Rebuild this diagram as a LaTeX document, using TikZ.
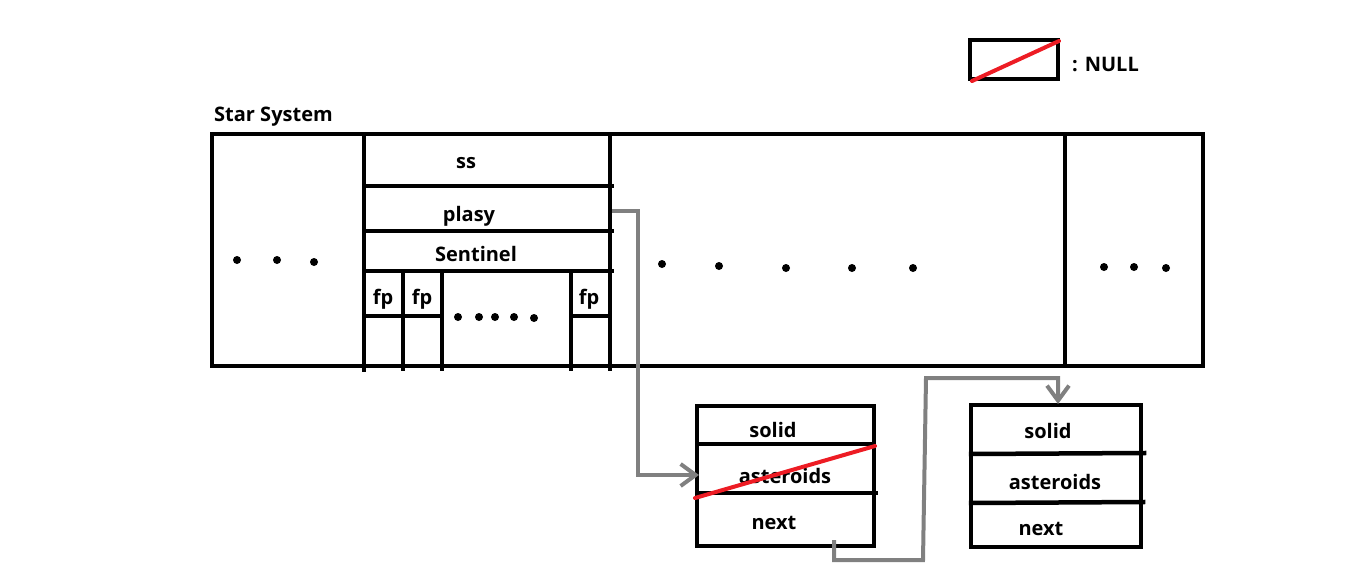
\documentclass[tikz,border=0pt]{standalone}
\usepackage{fontspec}
\setmainfont{Open Sans}
\usetikzlibrary{arrows.meta}
\definecolor{nullred}{RGB}{237,28,36}
\definecolor{linkgray}{RGB}{128,128,128}
\begin{document}
\begin{tikzpicture}[x=1pt,y=-1pt,
  blk/.style={line width=4.5pt,line cap=rect},
  nul/.style={draw=nullred,line width=4pt,line cap=round},
  lbl/.style={font=\fontsize{20}{24}\selectfont\bfseries,inner sep=0pt},
  dot/.style={fill=black,circle,inner sep=0pt,minimum size=8pt},
  link/.style={draw=linkgray,line width=4pt,-{Straight Barb[length=15pt,width=22pt,line width=4pt]}},
  cell/.style={draw,line width=4.5pt,rectangle,inner sep=0pt}]
\useasboundingbox (0,0) rectangle (1360,563);
% legend
\node[cell,minimum width=88pt,minimum height=39pt] (leg) at (1014,59.5) {};
\draw[nul] (972,81) -- (1059,41);
\node[lbl,anchor=west] (nulltxt) at (1072,64) {: NULL};
% title
\node[lbl,anchor=west] (title) at (214,117) {Star System};
% main frame
\draw[blk] (212,134) rectangle (1203,366);
\draw[blk] (364,134) -- (364,370);
\draw[blk] (610,134) -- (610,369);
\draw[blk] (1065,134) -- (1065,366);
\draw[blk] (364,186) -- (612,186);
\draw[blk] (364,231) -- (612,231);
\draw[blk] (364,271) -- (612,271);
\draw[blk] (364,316) -- (442,316);
\draw[blk] (571,316) -- (610,316);
\draw[blk] (403,271) -- (403,369);
\draw[blk] (442,271) -- (442,369);
\draw[blk] (571,271) -- (571,369);
\node[lbl] (ss) at (466,163) {ss};
\node[lbl] (plasy) at (469,216) {plasy};
\node[lbl] (sent) at (476,254) {Sentinel};
\node[lbl] (fp1) at (383,299) {fp};
\node[lbl] (fp2) at (422,299) {fp};
\node[lbl] (fp3) at (589,299) {fp};
% dots
\foreach \x/\y in {237/260,277/260,314/262,
  458/317,479/317,495/317,514/317,534/318,
  662/264,719/266,786/268,852/268,913/268,
  1104/267,1134/267,1166/268}
  \node[dot] at (\x,\y) {};
% box 1
\node[cell,minimum width=177pt,minimum height=140pt] (b1) at (785.5,476) {};
\draw[blk] (697,444) -- (874,444);
\draw[blk] (697,493) -- (876,493);
\node[lbl] (solid1) at (773,430) {solid};
\node[lbl] (ast1) at (785,476) {asteroids};
\node[lbl] (next1) at (774,523) {next};
\draw[nul] (695,498) -- (875,446);
% box 2
\node[cell,minimum width=170pt,minimum height=142pt] (b2) at (1056,476) {};
\draw[blk] (971,454) -- (1144,453);
\draw[blk] (971,503) -- (1143,502);
\node[lbl] (solid2) at (1048,431) {solid};
\node[lbl] (ast2) at (1055,482) {asteroids};
\node[lbl] (next2) at (1041,529) {next};
% links
\coordinate (p0) at (612,211);
\coordinate (p1) at (699,475);
\draw[link] (p0) -- (638,211) -- (638,475) -- (p1);
\coordinate (q0) at (834,540);
\coordinate (q1) at (1058,404);
\draw[link] (q0) -- (834,560) -- (923,560) -- (926,378) -- (1058,378) -- (q1);
\end{tikzpicture}
\end{document}
